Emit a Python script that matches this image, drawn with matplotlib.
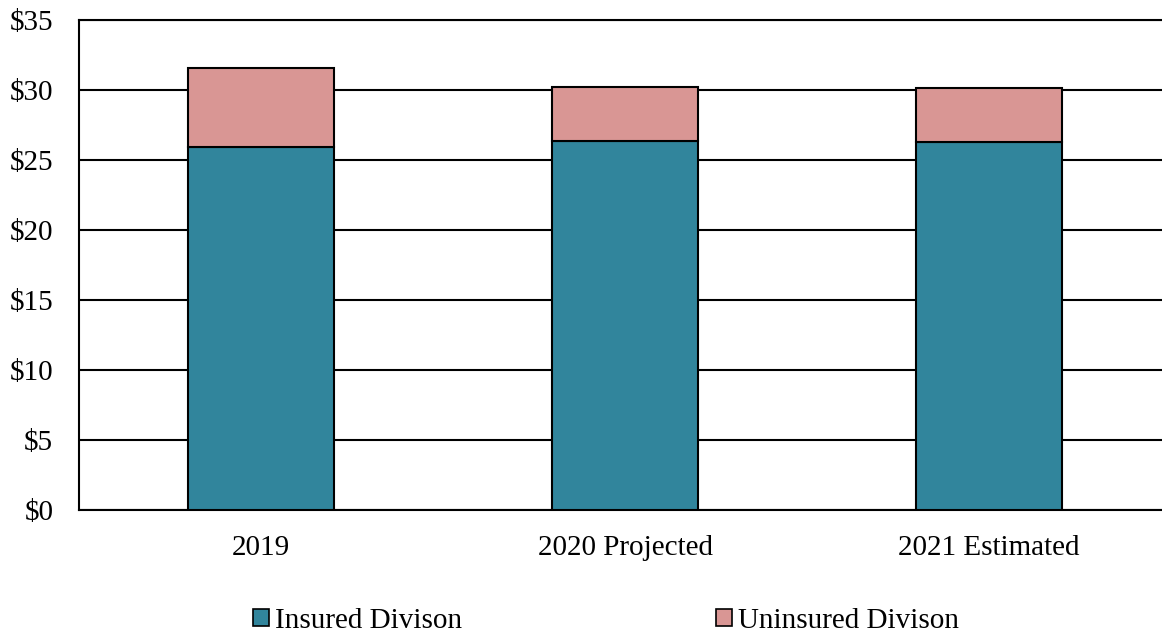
import numpy as np
import matplotlib.pyplot as plt
from matplotlib.patches import Patch

years = ['2019', '2020 Projected', '2021 Estimated']
insured = [25.93, 26.31, 26.24]
uninsured = [5.62, 3.88, 3.86]

teal = '#31859C'
pink = '#D99694'

plt.rcParams['font.family'] = ['Liberation Serif', 'DejaVu Serif']
plt.rcParams['font.size'] = 21

fig = plt.figure(figsize=(11.62, 6.34), dpi=100)
ax = fig.add_axes([79 / 1162, 1 - 509.5 / 634, 1 - 79 / 1162, 489.8 / 634])

x = np.arange(len(years))
ax.bar(x, insured, width=0.4, color=teal, edgecolor='black', linewidth=1.5, zorder=3)
ax.bar(x, uninsured, width=0.4, bottom=insured, color=pink, edgecolor='black', linewidth=1.5, zorder=3)

ax.set_xlim(-0.5, -0.5 + 1083 / 364)
ax.set_ylim(0, 35)
ax.set_yticks(np.arange(0, 36, 5))
ax.set_yticklabels(['$' + str(v) for v in range(0, 36, 5)])
ax.set_xticks(x)
ax.set_xticklabels(years)
ax.tick_params(axis='y', length=0, pad=18.5)
ax.tick_params(axis='x', length=0, pad=18.5)

ax.yaxis.grid(True, color='black', linewidth=1.5, zorder=0)
ax.spines['right'].set_visible(False)
for s in ['left', 'bottom', 'top']:
    ax.spines[s].set_linewidth(1.5)
    ax.spines[s].set_color('black')

handles = [Patch(facecolor=teal, edgecolor='black', linewidth=1.2),
           Patch(facecolor=pink, edgecolor='black', linewidth=1.2)]
fig.legend(handles, ['Insured Divison', 'Uninsured Divison'], loc='center',
           bbox_to_anchor=(606 / 1162, 1 - 621 / 634), ncol=2, frameon=False,
           handlelength=0.55, handleheight=0.55, handletextpad=0.2,
           columnspacing=8.7, borderpad=0)

fig.savefig('out.png', dpi=100)
